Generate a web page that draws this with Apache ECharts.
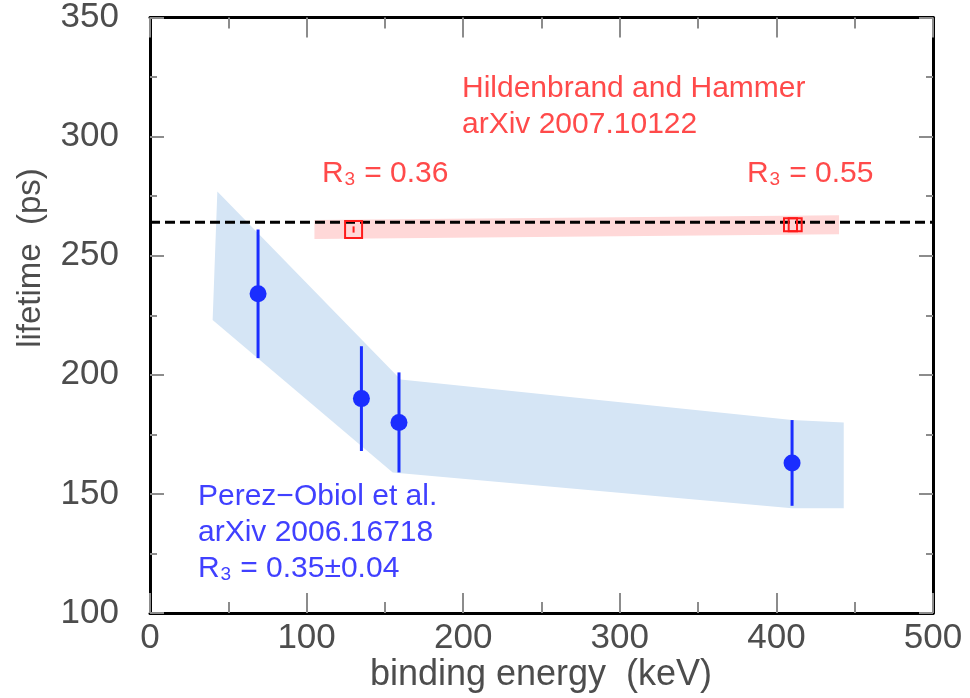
<!DOCTYPE html>
<html lang="en">
  <head>
    <meta charset="UTF-8" />
    <script src="https://cdn.jsdelivr.net/npm/echarts@6/dist/echarts.min.js"></script>
    <title>lifetime vs binding energy</title>
  </head>
  <body style="margin: 0">
    <div id="main" style="width: 970px; height: 698px"></div>
    <script>
      // Perez-Obiol et al. points (keV, ps, +/- ps)
      var blueEnergy = [69, 135, 159, 410];
      var blueLifetime = [234, 190, 180, 163];
      var blueError = [27, 22, 21, 18];

      // light blue band, upper and lower edges
      var blueUpper = [[43, 277], [160, 198], [410, 181], [443, 180]];
      var blueLower = [[40, 223], [155, 159], [410, 144], [443, 144]];

      // Hildenbrand and Hammer points
      var redEnergy = [130, 409, 412];
      var redLifetime = [261, 263, 263];
      var redError = [1.3, 0, 0];

      // pink band
      var redUpper = [[105, 265], [440, 267]];
      var redLower = [[105, 257], [440, 259]];

      // dashed reference line
      var refLifetime = 264;
      var refRange = [0, 500];

      var xTicks = { min: 0, max: 500, interval: 100 };
      var yTicks = { min: 100, max: 350, interval: 50 };

      var FONT = "Liberation Sans";
      var TEXT = "#4d4d4d";
      var TICK = "#8c8c8c";
      var chart = echarts.init(document.getElementById("main"));

      function bandSeries(upper, lower, color) {
        var pts = upper.concat(lower.slice().reverse());
        return {
          type: "custom",
          silent: true,
          z: 1,
          data: [0],
          renderItem: function (params, api) {
            return {
              type: "polygon",
              shape: { points: pts.map(function (p) { return api.coord(p); }) },
              style: { fill: color }
            };
          }
        };
      }

      function makeAxis(pos, range, major, minor, showLabel) {
        var vertical = pos === "left" || pos === "right";
        return {
          type: "value",
          position: pos,
          min: range.min,
          max: range.max,
          interval: range.interval,
          splitLine: { show: false },
          axisLine: { show: true, onZero: false, lineStyle: { color: "#000", width: 3 } },
          axisTick: { inside: true, length: major, lineStyle: { color: TICK, width: 2 } },
          minorTick: { show: true, splitNumber: 2, length: minor, lineStyle: { color: TICK, width: 2 } },
          axisLabel: {
            show: showLabel,
            margin: vertical ? 31 : 8,
            fontFamily: FONT,
            fontSize: 35,
            color: TEXT
          }
        };
      }

      var option = {
        animation: false,
        backgroundColor: "#fff",
        grid: { left: 150, right: 37, top: 16, bottom: 85 },
        xAxis: [
          makeAxis("bottom", xTicks, 20, 11, true),
          makeAxis("top", xTicks, 20, 11, false)
        ],
        yAxis: [
          makeAxis("left", yTicks, 14, 7, true),
          makeAxis("right", yTicks, 14, 7, false)
        ],
        series: [
          bandSeries(blueUpper, blueLower, "#d5e5f5"),
          bandSeries(redUpper, redLower, "#ffd8d8"),
          {
            type: "line",
            silent: true,
            z: 3,
            symbol: "none",
            data: refRange.map(function (x) { return [x, refLifetime]; }),
            lineStyle: { color: "#000", width: 3, type: [10, 5] }
          },
          {
            // blue points with vertical error bars
            type: "custom",
            z: 4,
            data: blueEnergy.map(function (e, i) {
              return [e, blueLifetime[i], blueError[i]];
            }),
            renderItem: function (params, api) {
              var x = api.value(0), y = api.value(1), d = api.value(2);
              var c = api.coord([x, y]);
              var hi = api.coord([x, y + d]);
              var lo = api.coord([x, y - d]);
              return {
                type: "group",
                children: [
                  {
                    type: "line",
                    shape: { x1: hi[0], y1: hi[1], x2: lo[0], y2: lo[1] },
                    style: { stroke: "#1a2dff", lineWidth: 3 }
                  },
                  {
                    type: "circle",
                    shape: { cx: c[0], cy: c[1], r: 8.5 },
                    style: { fill: "#1a2dff" }
                  }
                ]
              };
            }
          },
          {
            // red hollow squares
            type: "custom",
            z: 5,
            data: redEnergy.map(function (e, i) {
              return [e, redLifetime[i], redError[i]];
            }),
            renderItem: function (params, api) {
              var x = api.value(0), y = api.value(1), d = api.value(2);
              var c = api.coord([x, y]);
              var s = d > 0 ? 17 : 13;
              var children = [
                {
                  type: "rect",
                  shape: { x: c[0] - s / 2, y: c[1] - s / 2, width: s, height: s },
                  style: { fill: "none", stroke: "#ff1a1a", lineWidth: 2 }
                }
              ];
              if (d > 0) {
                var hi = api.coord([x, y + d]);
                var lo = api.coord([x, y - d]);
                children.push({
                  type: "line",
                  shape: { x1: hi[0], y1: hi[1], x2: lo[0], y2: lo[1] },
                  style: { stroke: "#ff1a1a", lineWidth: 2 }
                });
              }
              return { type: "group", children: children };
            }
          }
        ],
        graphic: [
          {
            type: "text", x: 541, y: 657,
            style: { text: "binding energy  (keV)", fill: TEXT, font: "36px " + FONT, align: "center", verticalAlign: "top" }
          },
          {
            type: "text", x: 31, y: 258, rotation: Math.PI / 2,
            style: { text: "lifetime  (ps)", fill: TEXT, font: "33px " + FONT, align: "center", verticalAlign: "middle" }
          },
          {
            type: "text", left: 462, top: 71,
            style: { text: "Hildenbrand and Hammer\narXiv 2007.10122", fill: "#ff4a4a", font: "30px " + FONT, lineHeight: 36 }
          },
          {
            type: "text", left: 322, top: 159,
            style: { text: "R₃ = 0.36", fill: "#ff4a4a", font: "30px " + FONT }
          },
          {
            type: "text", left: 747, top: 159,
            style: { text: "R₃ = 0.55", fill: "#ff4a4a", font: "30px " + FONT }
          },
          {
            type: "text", left: 198, top: 479,
            style: { text: "Perez−Obiol et al.\narXiv 2006.16718\nR₃ = 0.35±0.04", fill: "#4040ff", font: "30px " + FONT, lineHeight: 36 }
          }
        ]
      };

      chart.setOption(option);
    </script>
  </body>
</html>
